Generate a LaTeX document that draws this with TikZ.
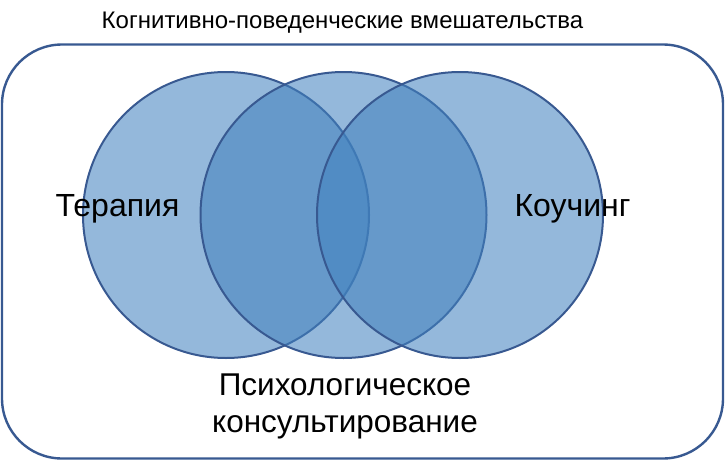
\documentclass[tikz,border=0pt]{standalone}
\usepackage{fontspec}
\setmainfont{Liberation Sans}
\usetikzlibrary{positioning}
\definecolor{vennfill}{RGB}{65,129,190}
\definecolor{venndraw}{RGB}{56,89,145}

\begin{document}
\begin{tikzpicture}[x=1pt,y=-1pt]
\useasboundingbox (0,0) rectangle (726,461);
%draw outer frame
\node [shape=rectangle,draw=venndraw,line width=2.4pt,rounded corners=60pt,minimum width=721pt,minimum height=414pt,inner sep=0pt] at (362.5,251.5) (frame) {};
\node [anchor=base,font=\fontsize{24}{28}\selectfont] at (342.5,28) (title) {Когнитивно-поведенческие вмешательства};

%draw circles
\node [shape=circle,draw=venndraw,line width=2pt,fill=vennfill,fill opacity=0.56,minimum size=286pt,inner sep=0pt] at (226,215) (ter) {};
\node [shape=circle,draw=venndraw,line width=2pt,fill=vennfill,fill opacity=0.56,minimum size=286pt,inner sep=0pt] at (343.5,215) (kons) {};
\node [shape=circle,draw=venndraw,line width=2pt,fill=vennfill,fill opacity=0.56,minimum size=286pt,inner sep=0pt] at (460,215) (kouch) {};

%labels
\node [anchor=base,font=\fontsize{32}{36}\selectfont] at (117.5,216) (ter_label) {Терапия};
\node [anchor=base,font=\fontsize{32}{36}\selectfont] at (572.5,216) (kouch_label) {Коучинг};
\node [anchor=base,align=center,font=\fontsize{31.5}{37}\selectfont] at (345,432) (kons_label) {Психологическое\\консультирование};

\end{tikzpicture}
\end{document}
